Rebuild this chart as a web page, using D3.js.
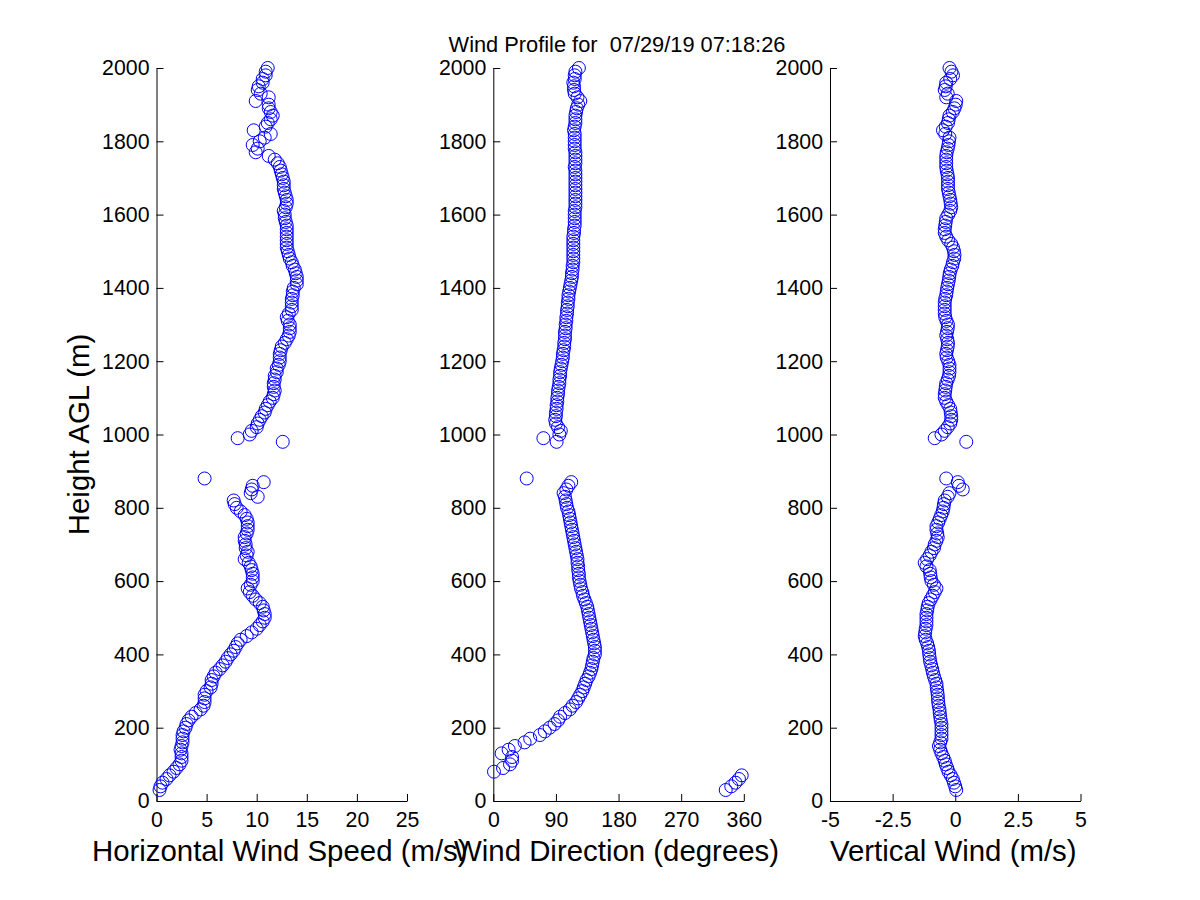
<!DOCTYPE html>
<html>
<head>
<meta charset="utf-8">
<script src="https://cdn.jsdelivr.net/npm/d3@7"></script>
<style>
  html, body { margin: 0; padding: 0; background: #fff; }
  svg { display: block; font-family: "Liberation Sans", Arial, Helvetica, sans-serif; }
</style>
</head>
<body>
<svg id="chart" width="1200" height="900"></svg>
<script>
// ---------- DATA ----------
const titleText = "Wind Profile for  07/29/19 07:18:26";

const heights = [
  30,40,50,60,70,80,90,100,110,120,130,140,150,160,170,180,190,200,210,220,
  230,240,250,260,270,280,290,300,310,320,330,340,350,360,370,380,390,400,410,420,
  430,440,450,460,470,480,490,500,510,520,530,540,550,560,570,580,590,600,610,620,
  630,640,650,660,670,680,690,700,710,720,730,740,750,760,770,780,790,800,810,820,
  830,840,850,860,870,880,
  980,990,1000,1010,1020,1030,1040,1050,1060,1070,1080,1090,1100,1110,1120,1130,1140,1150,1160,1170,
  1180,1190,1200,1210,1220,1230,1240,1250,1260,1270,1280,1290,1300,1310,1320,1330,1340,1350,1360,1370,
  1380,1390,1400,1410,1420,1430,1440,1450,1460,1470,1480,1490,1500,1510,1520,1530,1540,1550,1560,1570,
  1580,1590,1600,1610,1620,1630,1640,1650,1660,1670,1680,1690,1700,1710,1720,1730,1740,1750,1760,1770,
  1780,1790,1800,1810,1820,1830,1840,1850,1860,1870,1880,1890,1900,1910,1920,1930,1940,1950,1960,1970,
  1980,1990,2000
];

const windSpeed = [
  0.3,0.4,0.6,1.0,1.3,1.7,2.0,2.3,2.5,2.5,
  2.5,2.4,2.5,2.6,2.6,2.6,2.7,2.9,3.0,3.2,
  3.5,3.9,4.4,4.7,4.8,4.8,4.8,5.0,5.4,5.5,
  5.5,5.7,5.9,6.3,6.6,6.9,7.1,7.4,7.7,7.9,
  8.1,8.4,9.0,9.5,10.0,10.3,10.6,10.8,10.8,10.7,
  10.6,10.3,9.9,9.6,9.3,9.1,9.4,9.6,9.6,9.6,
  9.5,9.4,9.2,8.8,9.0,9.1,8.9,8.9,8.8,8.8,
  9.0,9.1,9.1,9.1,9.0,8.8,8.4,8.0,7.8,7.7,
  10.1,9.4,9.5,9.6,10.7,4.8,
  12.6,8.1,9.3,9.5,10.0,10.1,10.3,10.5,10.8,10.9,
  11.1,11.3,11.6,11.7,11.8,11.7,11.7,11.8,11.8,12.0,
  12.0,12.2,12.3,12.3,12.3,12.4,12.5,12.8,13.0,13.2,
  13.3,13.3,13.3,13.1,13.0,13.2,13.5,13.5,13.5,13.5,
  13.6,13.6,13.7,14.0,14.0,14.0,13.9,13.8,13.6,13.5,
  13.3,13.2,13.1,13.0,13.0,13.0,13.0,13.0,13.0,13.0,
  12.9,12.8,12.8,12.7,12.9,13.0,13.0,12.9,12.8,12.7,
  12.7,12.7,12.6,12.5,12.4,12.3,12.1,11.8,11.2,9.9,
  10.1,9.6,10.3,10.8,11.4,9.7,10.9,11.1,11.4,11.6,
  11.4,11.2,11.2,9.9,11.2,10.4,10.1,10.2,10.6,10.6,
  10.9,10.9,11.1
];

const windDirection = [
  334,342,348,353,357,1,14,24,27,27,
  12,22,31,45,53,67,74,81,88,93,
  96,103,110,114,119,122,125,128,130,132,
  134,137,139,141,142,143,144,146,146,146,
  145,144,143,142,141,140,139,138,137,136,
  135,133,131,129,128,126,125,124,123,123,
  122,122,121,121,120,119,118,117,116,115,
  114,113,112,111,110,109,108,106,105,104,
  103,101,105,108,112,48,
  91,72,95,97,93,90,89,90,90,91,
  91,92,92,93,93,94,95,95,96,96,
  97,98,99,100,100,101,102,102,103,103,
  103,104,104,105,105,106,106,107,107,108,
  108,109,110,111,112,113,113,114,114,115,
  115,115,115,115,115,115,115,116,116,117,
  117,117,117,117,118,118,118,118,118,118,
  118,118,118,118,118,117,118,118,118,118,
  117,117,117,117,117,116,117,118,118,118,
  119,120,122,125,121,117,116,116,115,117,
  117,118,123
];

const verticalWind = [
  0.04,0.0,-0.05,-0.1,-0.18,-0.27,-0.32,-0.38,-0.42,-0.48,
  -0.55,-0.6,-0.65,-0.6,-0.55,-0.55,-0.55,-0.55,-0.55,-0.58,
  -0.6,-0.62,-0.63,-0.66,-0.68,-0.69,-0.7,-0.72,-0.74,-0.75,
  -0.8,-0.85,-0.89,-0.92,-0.96,-1.0,-1.02,-1.04,-1.05,-1.08,
  -1.12,-1.18,-1.22,-1.2,-1.18,-1.15,-1.15,-1.15,-1.15,-1.12,
  -1.1,-1.06,-0.98,-0.9,-0.82,-0.75,-0.85,-0.95,-0.98,-1.0,
  -1.02,-1.15,-1.22,-1.12,-1.02,-0.95,-0.85,-0.82,-0.75,-0.7,
  -0.72,-0.75,-0.75,-0.68,-0.62,-0.56,-0.5,-0.47,-0.45,-0.42,
  -0.3,-0.23,0.3,0.15,0.1,-0.36,
  0.44,-0.82,-0.55,-0.42,-0.3,-0.2,-0.16,-0.16,-0.18,-0.2,
  -0.28,-0.36,-0.42,-0.42,-0.4,-0.38,-0.36,-0.3,-0.25,-0.23,
  -0.23,-0.23,-0.28,-0.34,-0.36,-0.33,-0.3,-0.29,-0.32,-0.36,
  -0.33,-0.3,-0.29,-0.35,-0.4,-0.42,-0.42,-0.42,-0.42,-0.4,
  -0.36,-0.34,-0.32,-0.29,-0.26,-0.24,-0.22,-0.18,-0.12,-0.09,
  -0.04,-0.03,-0.05,-0.09,-0.16,-0.28,-0.36,-0.42,-0.42,-0.4,
  -0.38,-0.36,-0.28,-0.2,-0.16,-0.18,-0.2,-0.23,-0.26,-0.29,
  -0.29,-0.29,-0.29,-0.31,-0.34,-0.36,-0.36,-0.36,-0.36,-0.34,
  -0.3,-0.27,-0.25,-0.23,-0.4,-0.49,-0.38,-0.29,-0.26,-0.23,
  -0.1,-0.03,0.02,0.04,-0.36,-0.3,-0.42,-0.38,-0.36,-0.2,
  -0.09,-0.15,-0.23
];

const heightTicks = [0,200,400,600,800,1000,1200,1400,1600,1800,2000];
const speedTicks = [0,5,10,15,20,25];
const directionTicks = [0,90,180,270,360];
const verticalTicks = [-5,-2.5,0,2.5,5];

const yLabel = "Height AGL (m)";
const xLabels = ["Horizontal Wind Speed (m/s)", "Wind Direction (degrees)", "Vertical Wind (m/s)"];

// ---------- LAYOUT ----------
const svg = d3.select("#chart");
const plotTop = 68, plotBottom = 801;
const panelWidth = 250.5;
const panelLefts = [156.5, 493.3, 830];

const panels = [
  { values: windSpeed, domain: [0, 25], ticks: speedTicks, label: xLabels[0] },
  { values: windDirection, domain: [0, 360], ticks: directionTicks, label: xLabels[1] },
  { values: verticalWind, domain: [-5, 5], ticks: verticalTicks, label: xLabels[2] }
];

const yScale = d3.scaleLinear().domain([0, 2000]).range([plotBottom, plotTop]);

panels.forEach((p, i) => {
  const left = panelLefts[i];
  const x = d3.scaleLinear().domain(p.domain).range([left, left + panelWidth]);
  const g = svg.append("g");

  const yAxis = d3.axisLeft(yScale).tickValues(heightTicks).tickFormat(d => String(d))
    .tickSizeInner(-7).tickSizeOuter(0).tickPadding(7);
  const gy = g.append("g").attr("transform", `translate(${left},0)`).call(yAxis);

  const xAxis = d3.axisBottom(x).tickValues(p.ticks).tickFormat(d => String(d))
    .tickSizeInner(-7).tickSizeOuter(0).tickPadding(11);
  const gx = g.append("g").attr("transform", `translate(0,${plotBottom})`).call(xAxis);

  [gy, gx].forEach(ax => {
    ax.selectAll("text").attr("font-size", 21.3).attr("fill", "#000")
      .attr("font-family", "'Liberation Sans', Arial, sans-serif");
    ax.selectAll("line").attr("stroke", "#000");
    ax.select(".domain").attr("stroke", "#000");
  });

  const pts = heights.map((h, k) => ({ h: h, v: p.values[k] }));
  g.append("g").selectAll("circle").data(pts).join("circle")
    .attr("cx", d => x(d.v))
    .attr("cy", d => yScale(d.h))
    .attr("r", 6.5)
    .attr("fill", "none")
    .attr("stroke", "#0000ff")
    .attr("stroke-width", 1);

  svg.append("text")
    .attr("x", left + panelWidth / 2 - 2)
    .attr("y", 861)
    .attr("text-anchor", "middle")
    .attr("font-size", 29.4)
    .attr("fill", "#000")
    .text(p.label);
});

svg.append("text")
  .attr("transform", `translate(89,${(plotTop + plotBottom) / 2}) rotate(-90)`)
  .attr("text-anchor", "middle")
  .attr("font-size", 29.4)
  .attr("fill", "#000")
  .text(yLabel);

svg.append("text")
  .attr("x", 617)
  .attr("y", 52)
  .attr("text-anchor", "middle")
  .attr("font-size", 21.8)
  .attr("fill", "#000")
  .style("white-space", "pre")
  .text(titleText);
</script>
</body>
</html>
